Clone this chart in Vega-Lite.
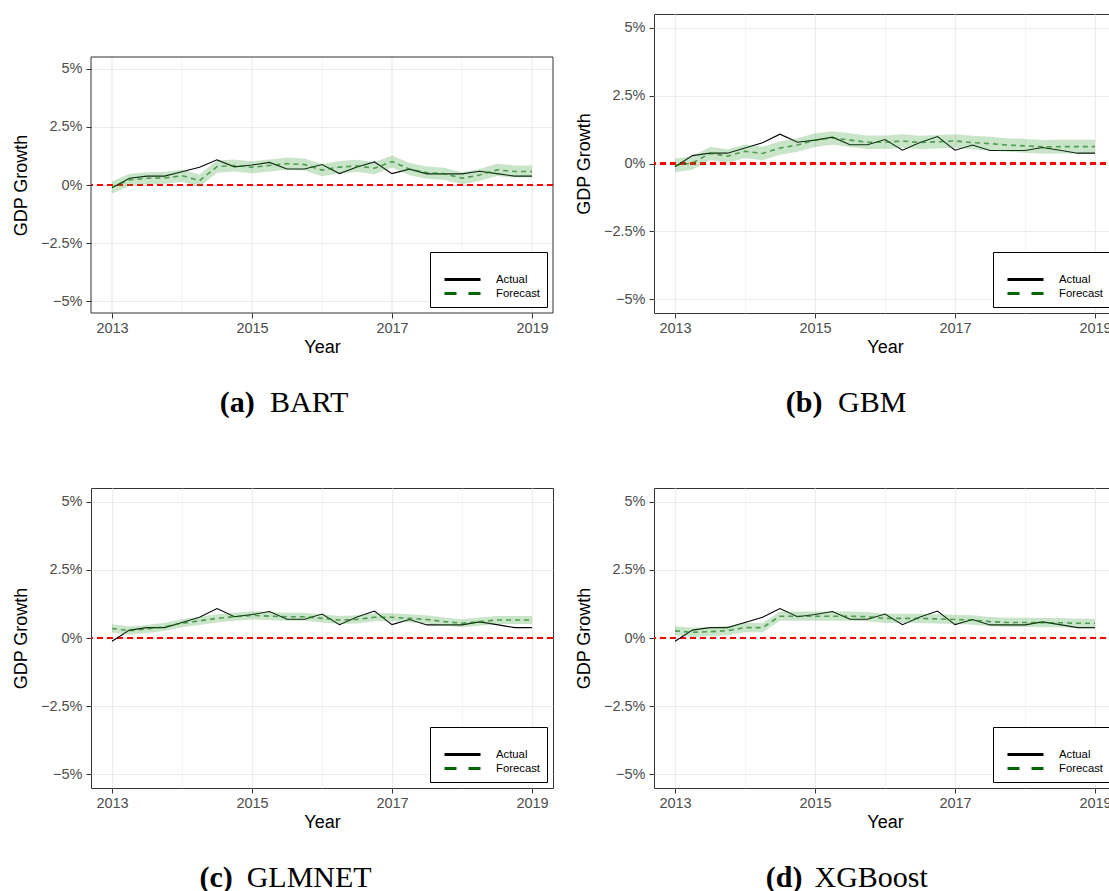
{
  "$schema": "https://vega.github.io/schema/vega-lite/v6.json",
  "padding": {"left": 11, "top": 13, "right": 0, "bottom": 0},
  "data": {"name": "gdp"},
  "datasets": {
    "gdp": [
      {"m": "BART", "t": 2013, "a": -0.12, "f": -0.10, "lo": -0.36, "hi": 0.16},
      {"m": "BART", "t": 2013.25, "a": 0.29, "f": 0.22, "lo": -0.04, "hi": 0.48},
      {"m": "BART", "t": 2013.5, "a": 0.38, "f": 0.29, "lo": 0.03, "hi": 0.55},
      {"m": "BART", "t": 2013.75, "a": 0.38, "f": 0.30, "lo": 0.04, "hi": 0.56},
      {"m": "BART", "t": 2014, "a": 0.57, "f": 0.40, "lo": 0.14, "hi": 0.66},
      {"m": "BART", "t": 2014.25, "a": 0.76, "f": 0.19, "lo": -0.07, "hi": 0.45},
      {"m": "BART", "t": 2014.5, "a": 1.08, "f": 0.79, "lo": 0.53, "hi": 1.05},
      {"m": "BART", "t": 2014.75, "a": 0.78, "f": 0.84, "lo": 0.58, "hi": 1.10},
      {"m": "BART", "t": 2015, "a": 0.86, "f": 0.76, "lo": 0.50, "hi": 1.02},
      {"m": "BART", "t": 2015.25, "a": 0.97, "f": 0.84, "lo": 0.58, "hi": 1.10},
      {"m": "BART", "t": 2015.5, "a": 0.69, "f": 0.92, "lo": 0.66, "hi": 1.18},
      {"m": "BART", "t": 2015.75, "a": 0.69, "f": 0.88, "lo": 0.62, "hi": 1.14},
      {"m": "BART", "t": 2016, "a": 0.88, "f": 0.64, "lo": 0.38, "hi": 0.90},
      {"m": "BART", "t": 2016.25, "a": 0.49, "f": 0.77, "lo": 0.51, "hi": 1.03},
      {"m": "BART", "t": 2016.5, "a": 0.77, "f": 0.82, "lo": 0.56, "hi": 1.08},
      {"m": "BART", "t": 2016.75, "a": 0.99, "f": 0.72, "lo": 0.46, "hi": 0.98},
      {"m": "BART", "t": 2017, "a": 0.49, "f": 1.01, "lo": 0.75, "hi": 1.27},
      {"m": "BART", "t": 2017.25, "a": 0.68, "f": 0.68, "lo": 0.42, "hi": 0.94},
      {"m": "BART", "t": 2017.5, "a": 0.48, "f": 0.53, "lo": 0.27, "hi": 0.79},
      {"m": "BART", "t": 2017.75, "a": 0.48, "f": 0.48, "lo": 0.22, "hi": 0.74},
      {"m": "BART", "t": 2018, "a": 0.48, "f": 0.29, "lo": 0.03, "hi": 0.55},
      {"m": "BART", "t": 2018.25, "a": 0.59, "f": 0.43, "lo": 0.17, "hi": 0.69},
      {"m": "BART", "t": 2018.5, "a": 0.49, "f": 0.65, "lo": 0.39, "hi": 0.91},
      {"m": "BART", "t": 2018.75, "a": 0.38, "f": 0.58, "lo": 0.32, "hi": 0.84},
      {"m": "BART", "t": 2019, "a": 0.38, "f": 0.58, "lo": 0.32, "hi": 0.84},

      {"m": "GBM", "t": 2013, "a": -0.12, "f": -0.07, "lo": -0.32, "hi": 0.18},
      {"m": "GBM", "t": 2013.25, "a": 0.29, "f": 0.02, "lo": -0.23, "hi": 0.27},
      {"m": "GBM", "t": 2013.5, "a": 0.38, "f": 0.37, "lo": 0.12, "hi": 0.62},
      {"m": "GBM", "t": 2013.75, "a": 0.38, "f": 0.27, "lo": 0.02, "hi": 0.52},
      {"m": "GBM", "t": 2014, "a": 0.57, "f": 0.45, "lo": 0.20, "hi": 0.70},
      {"m": "GBM", "t": 2014.25, "a": 0.76, "f": 0.37, "lo": 0.12, "hi": 0.62},
      {"m": "GBM", "t": 2014.5, "a": 1.08, "f": 0.57, "lo": 0.32, "hi": 0.82},
      {"m": "GBM", "t": 2014.75, "a": 0.78, "f": 0.68, "lo": 0.43, "hi": 0.93},
      {"m": "GBM", "t": 2015, "a": 0.86, "f": 0.86, "lo": 0.61, "hi": 1.11},
      {"m": "GBM", "t": 2015.25, "a": 0.97, "f": 0.94, "lo": 0.69, "hi": 1.19},
      {"m": "GBM", "t": 2015.5, "a": 0.69, "f": 0.86, "lo": 0.61, "hi": 1.11},
      {"m": "GBM", "t": 2015.75, "a": 0.69, "f": 0.78, "lo": 0.53, "hi": 1.03},
      {"m": "GBM", "t": 2016, "a": 0.88, "f": 0.78, "lo": 0.53, "hi": 1.03},
      {"m": "GBM", "t": 2016.25, "a": 0.49, "f": 0.83, "lo": 0.58, "hi": 1.08},
      {"m": "GBM", "t": 2016.5, "a": 0.77, "f": 0.77, "lo": 0.52, "hi": 1.02},
      {"m": "GBM", "t": 2016.75, "a": 0.99, "f": 0.80, "lo": 0.55, "hi": 1.05},
      {"m": "GBM", "t": 2017, "a": 0.49, "f": 0.83, "lo": 0.58, "hi": 1.08},
      {"m": "GBM", "t": 2017.25, "a": 0.68, "f": 0.77, "lo": 0.52, "hi": 1.02},
      {"m": "GBM", "t": 2017.5, "a": 0.48, "f": 0.73, "lo": 0.48, "hi": 0.98},
      {"m": "GBM", "t": 2017.75, "a": 0.48, "f": 0.68, "lo": 0.43, "hi": 0.93},
      {"m": "GBM", "t": 2018, "a": 0.48, "f": 0.65, "lo": 0.40, "hi": 0.90},
      {"m": "GBM", "t": 2018.25, "a": 0.59, "f": 0.61, "lo": 0.36, "hi": 0.86},
      {"m": "GBM", "t": 2018.5, "a": 0.49, "f": 0.62, "lo": 0.37, "hi": 0.87},
      {"m": "GBM", "t": 2018.75, "a": 0.38, "f": 0.62, "lo": 0.37, "hi": 0.87},
      {"m": "GBM", "t": 2019, "a": 0.38, "f": 0.62, "lo": 0.37, "hi": 0.87},

      {"m": "GLMNET", "t": 2013, "a": -0.12, "f": 0.35, "lo": 0.20, "hi": 0.50},
      {"m": "GLMNET", "t": 2013.25, "a": 0.29, "f": 0.27, "lo": 0.12, "hi": 0.42},
      {"m": "GLMNET", "t": 2013.5, "a": 0.38, "f": 0.33, "lo": 0.18, "hi": 0.48},
      {"m": "GLMNET", "t": 2013.75, "a": 0.38, "f": 0.41, "lo": 0.26, "hi": 0.56},
      {"m": "GLMNET", "t": 2014, "a": 0.57, "f": 0.54, "lo": 0.39, "hi": 0.69},
      {"m": "GLMNET", "t": 2014.25, "a": 0.76, "f": 0.63, "lo": 0.48, "hi": 0.78},
      {"m": "GLMNET", "t": 2014.5, "a": 1.08, "f": 0.72, "lo": 0.57, "hi": 0.87},
      {"m": "GLMNET", "t": 2014.75, "a": 0.78, "f": 0.78, "lo": 0.63, "hi": 0.93},
      {"m": "GLMNET", "t": 2015, "a": 0.86, "f": 0.83, "lo": 0.68, "hi": 0.98},
      {"m": "GLMNET", "t": 2015.25, "a": 0.97, "f": 0.80, "lo": 0.65, "hi": 0.95},
      {"m": "GLMNET", "t": 2015.5, "a": 0.69, "f": 0.78, "lo": 0.63, "hi": 0.93},
      {"m": "GLMNET", "t": 2015.75, "a": 0.69, "f": 0.78, "lo": 0.63, "hi": 0.93},
      {"m": "GLMNET", "t": 2016, "a": 0.88, "f": 0.72, "lo": 0.57, "hi": 0.87},
      {"m": "GLMNET", "t": 2016.25, "a": 0.49, "f": 0.66, "lo": 0.51, "hi": 0.81},
      {"m": "GLMNET", "t": 2016.5, "a": 0.77, "f": 0.68, "lo": 0.53, "hi": 0.83},
      {"m": "GLMNET", "t": 2016.75, "a": 0.99, "f": 0.76, "lo": 0.61, "hi": 0.91},
      {"m": "GLMNET", "t": 2017, "a": 0.49, "f": 0.76, "lo": 0.61, "hi": 0.91},
      {"m": "GLMNET", "t": 2017.25, "a": 0.68, "f": 0.72, "lo": 0.57, "hi": 0.87},
      {"m": "GLMNET", "t": 2017.5, "a": 0.48, "f": 0.68, "lo": 0.53, "hi": 0.83},
      {"m": "GLMNET", "t": 2017.75, "a": 0.48, "f": 0.60, "lo": 0.45, "hi": 0.75},
      {"m": "GLMNET", "t": 2018, "a": 0.48, "f": 0.54, "lo": 0.39, "hi": 0.69},
      {"m": "GLMNET", "t": 2018.25, "a": 0.59, "f": 0.60, "lo": 0.45, "hi": 0.75},
      {"m": "GLMNET", "t": 2018.5, "a": 0.49, "f": 0.66, "lo": 0.51, "hi": 0.81},
      {"m": "GLMNET", "t": 2018.75, "a": 0.38, "f": 0.66, "lo": 0.51, "hi": 0.81},
      {"m": "GLMNET", "t": 2019, "a": 0.38, "f": 0.66, "lo": 0.51, "hi": 0.81},

      {"m": "XGBoost", "t": 2013, "a": -0.12, "f": 0.26, "lo": 0.09, "hi": 0.43},
      {"m": "XGBoost", "t": 2013.25, "a": 0.29, "f": 0.21, "lo": 0.04, "hi": 0.38},
      {"m": "XGBoost", "t": 2013.5, "a": 0.38, "f": 0.23, "lo": 0.06, "hi": 0.40},
      {"m": "XGBoost", "t": 2013.75, "a": 0.38, "f": 0.27, "lo": 0.10, "hi": 0.44},
      {"m": "XGBoost", "t": 2014, "a": 0.57, "f": 0.38, "lo": 0.21, "hi": 0.55},
      {"m": "XGBoost", "t": 2014.25, "a": 0.76, "f": 0.38, "lo": 0.21, "hi": 0.55},
      {"m": "XGBoost", "t": 2014.5, "a": 1.08, "f": 0.80, "lo": 0.63, "hi": 0.97},
      {"m": "XGBoost", "t": 2014.75, "a": 0.78, "f": 0.80, "lo": 0.63, "hi": 0.97},
      {"m": "XGBoost", "t": 2015, "a": 0.86, "f": 0.80, "lo": 0.63, "hi": 0.97},
      {"m": "XGBoost", "t": 2015.25, "a": 0.97, "f": 0.80, "lo": 0.63, "hi": 0.97},
      {"m": "XGBoost", "t": 2015.5, "a": 0.69, "f": 0.80, "lo": 0.63, "hi": 0.97},
      {"m": "XGBoost", "t": 2015.75, "a": 0.69, "f": 0.78, "lo": 0.61, "hi": 0.95},
      {"m": "XGBoost", "t": 2016, "a": 0.88, "f": 0.72, "lo": 0.55, "hi": 0.89},
      {"m": "XGBoost", "t": 2016.25, "a": 0.49, "f": 0.72, "lo": 0.55, "hi": 0.89},
      {"m": "XGBoost", "t": 2016.5, "a": 0.77, "f": 0.72, "lo": 0.55, "hi": 0.89},
      {"m": "XGBoost", "t": 2016.75, "a": 0.99, "f": 0.70, "lo": 0.53, "hi": 0.87},
      {"m": "XGBoost", "t": 2017, "a": 0.49, "f": 0.68, "lo": 0.51, "hi": 0.85},
      {"m": "XGBoost", "t": 2017.25, "a": 0.68, "f": 0.66, "lo": 0.49, "hi": 0.83},
      {"m": "XGBoost", "t": 2017.5, "a": 0.48, "f": 0.60, "lo": 0.43, "hi": 0.77},
      {"m": "XGBoost", "t": 2017.75, "a": 0.48, "f": 0.57, "lo": 0.40, "hi": 0.74},
      {"m": "XGBoost", "t": 2018, "a": 0.48, "f": 0.57, "lo": 0.40, "hi": 0.74},
      {"m": "XGBoost", "t": 2018.25, "a": 0.59, "f": 0.56, "lo": 0.39, "hi": 0.73},
      {"m": "XGBoost", "t": 2018.5, "a": 0.49, "f": 0.56, "lo": 0.39, "hi": 0.73},
      {"m": "XGBoost", "t": 2018.75, "a": 0.38, "f": 0.54, "lo": 0.37, "hi": 0.71},
      {"m": "XGBoost", "t": 2019, "a": 0.38, "f": 0.54, "lo": 0.37, "hi": 0.71}
    ]
  },
  "columns": 2,
  "align": "none",
  "spacing": {"row": 69, "column": 19},
  "resolve": {"scale": {"color": "independent"}, "legend": {"color": "independent"}},
  "concat": [
    {
      "title": {"text": "BART", "dx": 26, "offset": -30},
      "resolve": {"scale": {"color": "independent"}, "legend": {"color": "independent"}},
      "vconcat": [
        {
          "width": 462, "height": 299,
          "view": {"stroke": null},
          "title": {"text": "(a)", "fontWeight": "bold", "dx": -46, "offset": 31},
          "transform": [{"filter": "datum.m === 'BART'"}],
          "layer": [
            {"data": {"values": [{"year": 2013}, {"year": 2015}, {"year": 2017}, {"year": 2019}]},
             "mark": {"type": "rule", "stroke": "#ebebeb", "strokeWidth": 1.2},
             "encoding": {
               "x": {"field": "year", "type": "quantitative", "scale": {"domain": [2012.7, 2019.3], "nice": false, "zero": false}},
               "y": {"datum": -5.5, "type": "quantitative", "scale": {"domain": [-5.5, 5.5], "range": [299, 43], "nice": false, "zero": false}},
               "y2": {"datum": 5.5}}},
            {"data": {"values": [{"year": 2014}, {"year": 2016}, {"year": 2018}]},
             "mark": {"type": "rule", "stroke": "#ebebeb", "strokeWidth": 0.6},
             "encoding": {
               "x": {"field": "year", "type": "quantitative", "scale": {"domain": [2012.7, 2019.3], "nice": false, "zero": false}},
               "y": {"datum": -5.5, "type": "quantitative", "scale": {"domain": [-5.5, 5.5], "range": [299, 43], "nice": false, "zero": false}},
               "y2": {"datum": 5.5}}},
            {"mark": {"type": "rule", "strokeWidth": 1.8, "strokeDash": [6, 4]},
             "encoding": {"stroke": {"value": "#ff0000"},
               "y": {"datum": 0, "type": "quantitative", "scale": {"domain": [-5.5, 5.5], "range": [299, 43], "nice": false, "zero": false},
               "axis": {"values": [-5, -3.75, -2.5, -1.25, 0, 1.25, 2.5, 3.75, 5], "labelExpr": "datum.value == 0 ? '0%' : (abs(datum.value) == 2.5 || abs(datum.value) == 5 ? (datum.value < 0 ? '−' : '') + abs(datum.value) + '%' : '')", "title": "GDP Growth", "grid": true, "gridWidth": {"condition": {"test": "abs(datum.value) == 1.25 || abs(datum.value) == 3.75", "value": 0.6}, "value": 1.2}, "tickOpacity": {"condition": {"test": "abs(datum.value) == 1.25 || abs(datum.value) == 3.75", "value": 0}, "value": 1}, "labelOverlap": false, "labelFlush": false, "labelPadding": 4, "titlePadding": 10}}}},
            {"mark": {"type": "line", "strokeWidth": 1.1},
             "encoding": {
               "x": {"field": "t", "type": "quantitative", "scale": {"domain": [2012.7, 2019.3], "nice": false, "zero": false},
                 "axis": {"values": [2013, 2014, 2015, 2016, 2017, 2018, 2019], "format": "d", "labelExpr": "datum.value % 2 == 1 ? datum.label : ''", "title": "Year", "grid": false, "tickOpacity": {"condition": {"test": "datum.value % 2 == 0", "value": 0}, "value": 1}, "labelOverlap": false, "labelFlush": false, "labelPadding": 3, "titlePadding": 4}},
               "y": {"field": "a", "type": "quantitative", "scale": {"domain": [-5.5, 5.5], "range": [299, 43], "nice": false, "zero": false}},
               "color": {"datum": "Actual", "type": "nominal", "scale": {"domain": ["Actual", "Forecast"], "range": ["#000000", "#006400"]},
                 "legend": {"title": " ", "encode": {"symbols": {"update": {"strokeDash": [{"test": "datum.value === 'Forecast'", "value": [12, 12]}, {"value": [1, 0]}]}}}}}}},
            {"mark": {"type": "line", "strokeWidth": 1.6, "strokeOpacity": 0.65, "strokeDash": [5, 4]},
             "encoding": {
               "x": {"field": "t", "type": "quantitative", "scale": {"domain": [2012.7, 2019.3], "nice": false, "zero": false}},
               "y": {"field": "f", "type": "quantitative", "scale": {"domain": [-5.5, 5.5], "range": [299, 43], "nice": false, "zero": false}},
               "color": {"datum": "Forecast", "type": "nominal", "scale": {"domain": ["Actual", "Forecast"], "range": ["#000000", "#006400"]},
                 "legend": {"title": " ", "encode": {"symbols": {"update": {"strokeDash": [{"test": "datum.value === 'Forecast'", "value": [12, 12]}, {"value": [1, 0]}]}}}}}}},
            {"mark": {"type": "area", "color": "#3ca03c", "opacity": 0.28},
             "encoding": {
               "x": {"field": "t", "type": "quantitative", "scale": {"domain": [2012.7, 2019.3], "nice": false, "zero": false}},
               "y": {"field": "lo", "type": "quantitative", "scale": {"domain": [-5.5, 5.5], "range": [299, 43], "nice": false, "zero": false}},
               "y2": {"field": "hi"}}},
            {"data": {"values": [{"x0": 2012.7, "x1": 2019.3, "y0": -5.5, "y1": 5.5}]},
             "mark": {"type": "rect", "fill": "transparent", "stroke": "#333333", "strokeWidth": 1},
             "encoding": {
               "x": {"field": "x0", "type": "quantitative", "scale": {"domain": [2012.7, 2019.3], "nice": false, "zero": false}},
               "x2": {"field": "x1"},
               "y": {"field": "y0", "type": "quantitative", "scale": {"domain": [-5.5, 5.5], "range": [299, 43], "nice": false, "zero": false}},
               "y2": {"field": "y1"}}}
          ]
        }
      ]
    },
    {
      "title": {"text": "GBM", "dx": 26, "offset": -30},
      "resolve": {"scale": {"color": "independent"}, "legend": {"color": "independent"}},
      "vconcat": [
        {
          "width": 462, "height": 299,
          "title": {"text": "(b)", "fontWeight": "bold", "dx": -42, "offset": 31},
          "transform": [{"filter": "datum.m === 'GBM'"}],
          "layer": [
            {"mark": {"type": "rule", "strokeWidth": 1.8, "strokeDash": [6, 4]},
             "encoding": {"stroke": {"value": "#ff0000"},
               "y": {"datum": 0, "type": "quantitative", "scale": {"domain": [-5.5, 5.5], "nice": false, "zero": false},
               "axis": {"values": [-5, -3.75, -2.5, -1.25, 0, 1.25, 2.5, 3.75, 5], "labelExpr": "datum.value == 0 ? '0%' : (abs(datum.value) == 2.5 || abs(datum.value) == 5 ? (datum.value < 0 ? '−' : '') + abs(datum.value) + '%' : '')", "title": "GDP Growth", "grid": true, "gridWidth": {"condition": {"test": "abs(datum.value) == 1.25 || abs(datum.value) == 3.75", "value": 0.6}, "value": 1.2}, "tickOpacity": {"condition": {"test": "abs(datum.value) == 1.25 || abs(datum.value) == 3.75", "value": 0}, "value": 1}, "labelOverlap": false, "labelFlush": false, "labelPadding": 4, "titlePadding": 10}}}},
            {"mark": {"type": "line", "strokeWidth": 1.1},
             "encoding": {
               "x": {"field": "t", "type": "quantitative", "scale": {"domain": [2012.7, 2019.3], "nice": false, "zero": false},
                 "axis": {"values": [2013, 2014, 2015, 2016, 2017, 2018, 2019], "format": "d", "labelExpr": "datum.value % 2 == 1 ? datum.label : ''", "title": "Year", "grid": true, "gridWidth": {"condition": {"test": "datum.value % 2 == 0", "value": 0.6}, "value": 1.2}, "tickOpacity": {"condition": {"test": "datum.value % 2 == 0", "value": 0}, "value": 1}, "labelOverlap": false, "labelFlush": false, "labelPadding": 3, "titlePadding": 4}},
               "y": {"field": "a", "type": "quantitative", "scale": {"domain": [-5.5, 5.5], "nice": false, "zero": false}},
               "color": {"datum": "Actual", "type": "nominal", "scale": {"domain": ["Actual", "Forecast"], "range": ["#000000", "#006400"]},
                 "legend": {"title": " ", "encode": {"symbols": {"update": {"strokeDash": [{"test": "datum.value === 'Forecast'", "value": [12, 12]}, {"value": [1, 0]}]}}}}}}},
            {"mark": {"type": "line", "strokeWidth": 1.6, "strokeOpacity": 0.65, "strokeDash": [5, 4]},
             "encoding": {
               "x": {"field": "t", "type": "quantitative", "scale": {"domain": [2012.7, 2019.3], "nice": false, "zero": false}},
               "y": {"field": "f", "type": "quantitative", "scale": {"domain": [-5.5, 5.5], "nice": false, "zero": false}},
               "color": {"datum": "Forecast", "type": "nominal", "scale": {"domain": ["Actual", "Forecast"], "range": ["#000000", "#006400"]},
                 "legend": {"title": " ", "encode": {"symbols": {"update": {"strokeDash": [{"test": "datum.value === 'Forecast'", "value": [12, 12]}, {"value": [1, 0]}]}}}}}}},
            {"mark": {"type": "area", "color": "#3ca03c", "opacity": 0.28},
             "encoding": {
               "x": {"field": "t", "type": "quantitative", "scale": {"domain": [2012.7, 2019.3], "nice": false, "zero": false}},
               "y": {"field": "lo", "type": "quantitative", "scale": {"domain": [-5.5, 5.5], "nice": false, "zero": false}},
               "y2": {"field": "hi"}}}
          ]
        }
      ]
    },
    {
      "title": {"text": "GLMNET", "dx": 26, "offset": -30},
      "resolve": {"scale": {"color": "independent"}, "legend": {"color": "independent"}},
      "vconcat": [
        {
          "width": 462, "height": 300,
          "title": {"text": "(c)", "fontWeight": "bold", "dx": -67, "offset": 31},
          "transform": [{"filter": "datum.m === 'GLMNET'"}],
          "layer": [
            {"mark": {"type": "rule", "strokeWidth": 1.8, "strokeDash": [6, 4]},
             "encoding": {"stroke": {"value": "#ff0000"},
               "y": {"datum": 0, "type": "quantitative", "scale": {"domain": [-5.5, 5.5], "nice": false, "zero": false},
               "axis": {"values": [-5, -3.75, -2.5, -1.25, 0, 1.25, 2.5, 3.75, 5], "labelExpr": "datum.value == 0 ? '0%' : (abs(datum.value) == 2.5 || abs(datum.value) == 5 ? (datum.value < 0 ? '−' : '') + abs(datum.value) + '%' : '')", "title": "GDP Growth", "grid": true, "gridWidth": {"condition": {"test": "abs(datum.value) == 1.25 || abs(datum.value) == 3.75", "value": 0.6}, "value": 1.2}, "tickOpacity": {"condition": {"test": "abs(datum.value) == 1.25 || abs(datum.value) == 3.75", "value": 0}, "value": 1}, "labelOverlap": false, "labelFlush": false, "labelPadding": 4, "titlePadding": 10}}}},
            {"mark": {"type": "line", "strokeWidth": 1.1},
             "encoding": {
               "x": {"field": "t", "type": "quantitative", "scale": {"domain": [2012.7, 2019.3], "nice": false, "zero": false},
                 "axis": {"values": [2013, 2014, 2015, 2016, 2017, 2018, 2019], "format": "d", "labelExpr": "datum.value % 2 == 1 ? datum.label : ''", "title": "Year", "grid": true, "gridWidth": {"condition": {"test": "datum.value % 2 == 0", "value": 0.6}, "value": 1.2}, "tickOpacity": {"condition": {"test": "datum.value % 2 == 0", "value": 0}, "value": 1}, "labelOverlap": false, "labelFlush": false, "labelPadding": 3, "titlePadding": 4}},
               "y": {"field": "a", "type": "quantitative", "scale": {"domain": [-5.5, 5.5], "nice": false, "zero": false}},
               "color": {"datum": "Actual", "type": "nominal", "scale": {"domain": ["Actual", "Forecast"], "range": ["#000000", "#006400"]},
                 "legend": {"title": " ", "encode": {"symbols": {"update": {"strokeDash": [{"test": "datum.value === 'Forecast'", "value": [12, 12]}, {"value": [1, 0]}]}}}}}}},
            {"mark": {"type": "line", "strokeWidth": 1.6, "strokeOpacity": 0.65, "strokeDash": [5, 4]},
             "encoding": {
               "x": {"field": "t", "type": "quantitative", "scale": {"domain": [2012.7, 2019.3], "nice": false, "zero": false}},
               "y": {"field": "f", "type": "quantitative", "scale": {"domain": [-5.5, 5.5], "nice": false, "zero": false}},
               "color": {"datum": "Forecast", "type": "nominal", "scale": {"domain": ["Actual", "Forecast"], "range": ["#000000", "#006400"]},
                 "legend": {"title": " ", "encode": {"symbols": {"update": {"strokeDash": [{"test": "datum.value === 'Forecast'", "value": [12, 12]}, {"value": [1, 0]}]}}}}}}},
            {"mark": {"type": "area", "color": "#3ca03c", "opacity": 0.28},
             "encoding": {
               "x": {"field": "t", "type": "quantitative", "scale": {"domain": [2012.7, 2019.3], "nice": false, "zero": false}},
               "y": {"field": "lo", "type": "quantitative", "scale": {"domain": [-5.5, 5.5], "nice": false, "zero": false}},
               "y2": {"field": "hi"}}}
          ]
        }
      ]
    },
    {
      "title": {"text": "XGBoost", "dx": 25, "offset": -30},
      "resolve": {"scale": {"color": "independent"}, "legend": {"color": "independent"}},
      "vconcat": [
        {
          "width": 462, "height": 300,
          "title": {"text": "(d)", "fontWeight": "bold", "dx": -62, "offset": 31},
          "transform": [{"filter": "datum.m === 'XGBoost'"}],
          "layer": [
            {"mark": {"type": "rule", "strokeWidth": 1.8, "strokeDash": [6, 4]},
             "encoding": {"stroke": {"value": "#ff0000"},
               "y": {"datum": 0, "type": "quantitative", "scale": {"domain": [-5.5, 5.5], "nice": false, "zero": false},
               "axis": {"values": [-5, -3.75, -2.5, -1.25, 0, 1.25, 2.5, 3.75, 5], "labelExpr": "datum.value == 0 ? '0%' : (abs(datum.value) == 2.5 || abs(datum.value) == 5 ? (datum.value < 0 ? '−' : '') + abs(datum.value) + '%' : '')", "title": "GDP Growth", "grid": true, "gridWidth": {"condition": {"test": "abs(datum.value) == 1.25 || abs(datum.value) == 3.75", "value": 0.6}, "value": 1.2}, "tickOpacity": {"condition": {"test": "abs(datum.value) == 1.25 || abs(datum.value) == 3.75", "value": 0}, "value": 1}, "labelOverlap": false, "labelFlush": false, "labelPadding": 4, "titlePadding": 10}}}},
            {"mark": {"type": "line", "strokeWidth": 1.1},
             "encoding": {
               "x": {"field": "t", "type": "quantitative", "scale": {"domain": [2012.7, 2019.3], "nice": false, "zero": false},
                 "axis": {"values": [2013, 2014, 2015, 2016, 2017, 2018, 2019], "format": "d", "labelExpr": "datum.value % 2 == 1 ? datum.label : ''", "title": "Year", "grid": true, "gridWidth": {"condition": {"test": "datum.value % 2 == 0", "value": 0.6}, "value": 1.2}, "tickOpacity": {"condition": {"test": "datum.value % 2 == 0", "value": 0}, "value": 1}, "labelOverlap": false, "labelFlush": false, "labelPadding": 3, "titlePadding": 4}},
               "y": {"field": "a", "type": "quantitative", "scale": {"domain": [-5.5, 5.5], "nice": false, "zero": false}},
               "color": {"datum": "Actual", "type": "nominal", "scale": {"domain": ["Actual", "Forecast"], "range": ["#000000", "#006400"]},
                 "legend": {"title": " ", "encode": {"symbols": {"update": {"strokeDash": [{"test": "datum.value === 'Forecast'", "value": [12, 12]}, {"value": [1, 0]}]}}}}}}},
            {"mark": {"type": "line", "strokeWidth": 1.6, "strokeOpacity": 0.65, "strokeDash": [5, 4]},
             "encoding": {
               "x": {"field": "t", "type": "quantitative", "scale": {"domain": [2012.7, 2019.3], "nice": false, "zero": false}},
               "y": {"field": "f", "type": "quantitative", "scale": {"domain": [-5.5, 5.5], "nice": false, "zero": false}},
               "color": {"datum": "Forecast", "type": "nominal", "scale": {"domain": ["Actual", "Forecast"], "range": ["#000000", "#006400"]},
                 "legend": {"title": " ", "encode": {"symbols": {"update": {"strokeDash": [{"test": "datum.value === 'Forecast'", "value": [12, 12]}, {"value": [1, 0]}]}}}}}}},
            {"mark": {"type": "area", "color": "#3ca03c", "opacity": 0.28},
             "encoding": {
               "x": {"field": "t", "type": "quantitative", "scale": {"domain": [2012.7, 2019.3], "nice": false, "zero": false}},
               "y": {"field": "lo", "type": "quantitative", "scale": {"domain": [-5.5, 5.5], "nice": false, "zero": false}},
               "y2": {"field": "hi"}}}
          ]
        }
      ]
    }
  ],
  "config": {
    "font": "Liberation Sans",
    "view": {"stroke": "#333333", "strokeWidth": 1},
    "axis": {"domain": false, "tickColor": "#333333", "tickSize": 5, "tickWidth": 1, "labelColor": "#4d4d4d", "labelFontSize": 14.5, "labelFont": "Liberation Sans", "titleFont": "Liberation Sans", "titleFontSize": 18, "titleFontWeight": "normal", "titleColor": "#000000", "gridColor": "#ebebeb"},
    "legend": {"orient": "bottom-right", "offset": 6, "padding": 7, "strokeColor": "#000000", "fillColor": "#ffffff", "symbolType": "M0,0H6", "symbolSize": 144, "symbolStrokeWidth": 3, "labelFont": "Liberation Sans", "labelFontSize": 11.3, "labelColor": "#000000", "labelOffset": 44, "rowPadding": 0, "titleFont": "Liberation Sans", "titleFontSize": 11, "titlePadding": 2},
    "title": {"font": "Liberation Serif", "fontSize": 30, "fontWeight": "normal", "color": "#000000", "orient": "bottom", "anchor": "middle", "frame": "bounds"}
  }
}
